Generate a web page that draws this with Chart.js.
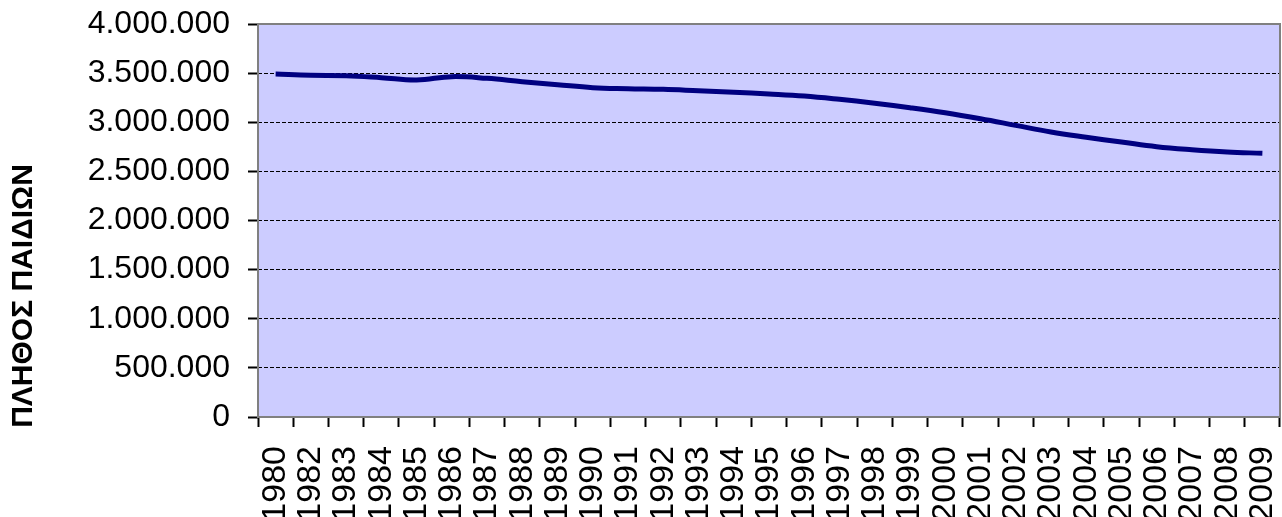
<!DOCTYPE html>
<html>
<head>
<meta charset="utf-8">
<title>ΠΛΗΘΟΣ ΠΑΙΔΙΩΝ</title>
<script src="https://cdn.jsdelivr.net/npm/chart.js@4.4.1/dist/chart.umd.min.js"></script>
<style>
    html, body { margin: 0; padding: 0; background: #ffffff; }
    #wrap { width: 1282px; height: 517px; }
</style>
</head>
<body>
<div id="wrap"><canvas id="childrenChart" width="1282" height="517"></canvas></div>
<script>
const years = ['1980', '1982', '1983', '1984', '1985', '1986', '1987', '1988', '1989', '1990',
    '1991', '1992', '1993', '1994', '1995', '1996', '1997', '1998', '1999', '2000',
    '2001', '2002', '2003', '2004', '2005', '2006', '2007', '2008', '2009'];
const children = [3490000, 3478000, 3474000, 3454000, 3430000, 3464000, 3447000, 3413000, 3382000, 3352000,
    3342000, 3335000, 3320000, 3305000, 3288000, 3267000, 3233000, 3193000, 3148000, 3097000,
    3036000, 2968000, 2900000, 2847000, 2799000, 2751000, 2720000, 2697000, 2684000];
const yTicks = [0, 500000, 1000000, 1500000, 2000000, 2500000, 3000000, 3500000, 4000000];
const yTitle = 'ΠΛΗΘΟΣ ΠΑΙΔΙΩΝ';

// greek style thousands: 3.500.000
function fmt(v) {
    return String(v).replace(/\B(?=(\d{3})+(?!\d))/g, '.');
}

// lavender plot area with grey frame
const plotBackground = {
    id: 'plotBackground',
    beforeDraw(chart) {
        const { ctx, chartArea: a } = chart;
        ctx.save();
        ctx.fillStyle = '#ccccff';
        ctx.fillRect(a.left, a.top, a.right - a.left, a.bottom - a.top);
        ctx.restore();
    },
    afterDatasetsDraw(chart) {
        const { ctx, chartArea: a } = chart;
        ctx.save();
        ctx.strokeStyle = '#808080';
        ctx.lineWidth = 2;
        ctx.strokeRect(a.left, a.top, a.right - a.left, a.bottom - a.top);
        ctx.restore();
    }
};

// rotated y title, centred lower than the plot like the original
const sideTitle = {
    id: 'sideTitle',
    afterDraw(chart) {
        const ctx = chart.ctx;
        ctx.save();
        ctx.translate(24, 296);
        ctx.rotate(-Math.PI / 2);
        ctx.font = 'bold 30px "Liberation Sans", Arial, sans-serif';
        ctx.fillStyle = '#000';
        ctx.textAlign = 'center';
        ctx.textBaseline = 'middle';
        ctx.fillText(yTitle, 0, 0);
        ctx.restore();
    }
};

new Chart(document.getElementById('childrenChart'), {
    type: 'line',
    data: {
        labels: years,
        datasets: [{
            label: yTitle,
            data: children,
            borderColor: '#000080',
            borderWidth: 5,
            pointRadius: 0,
            tension: 0.4,
            fill: false
        }]
    },
    options: {
        responsive: false,
        animation: false,
        layout: { padding: { top: 24, right: 2, left: 0, bottom: 0 } },
        plugins: {
            legend: { display: false },
            tooltip: { enabled: false }
        },
        scales: {
            x: {
                offset: true,
                grid: {
                    display: true,
                    offset: true,
                    drawOnChartArea: false,
                    drawTicks: true,
                    tickLength: 10,
                    tickColor: '#000',
                    tickWidth: 2
                },
                border: { display: true, color: '#000', width: 2 },
                ticks: {
                    autoSkip: false,
                    minRotation: 90,
                    maxRotation: 90,
                    padding: 19,
                    color: '#000',
                    font: { family: '"Liberation Sans", Arial, sans-serif', size: 34 }
                },
                afterFit(scale) {
                    scale.height = 100;
                    scale.paddingLeft = 0;
                    scale.paddingRight = 0;
                }
            },
            y: {
                min: 0,
                max: 4000000,
                afterBuildTicks(scale) { scale.ticks = yTicks.map(v => ({ value: v })); },
                grid: {
                    color: '#000',
                    lineWidth: 1,
                    drawTicks: true,
                    tickLength: 10,
                    tickColor: '#000',
                    tickWidth: 2,
                    tickBorderDash: []
                },
                border: { display: false, dash: [4, 2] },
                ticks: {
                    padding: 18,
                    color: '#000',
                    font: { family: '"Liberation Sans", Arial, sans-serif', size: 32 },
                    callback: (v) => fmt(v)
                },
                afterFit(scale) {
                    scale.width = 258;
                    scale.paddingTop = 0;
                    scale.paddingBottom = 0;
                }
            }
        }
    },
    plugins: [plotBackground, sideTitle]
});
</script>
</body>
</html>
